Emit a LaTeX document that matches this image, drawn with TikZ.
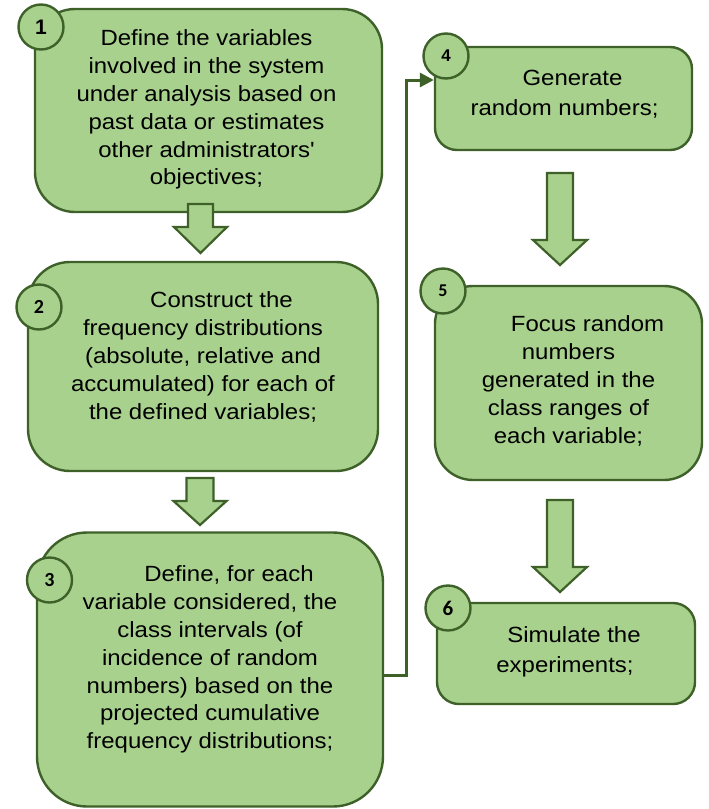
\documentclass[tikz,border=0pt]{standalone}
\usepackage{fontspec}
\setmainfont{Liberation Sans}[FakeStretch=1.09, Ligatures=TeXOff]
\newfontfamily\calnum{Carlito}
\newfontfamily\arnum{Liberation Sans}
\usetikzlibrary{arrows.meta}
\definecolor{gfill}{HTML}{A9D18E}
\definecolor{gline}{HTML}{3E6129}
\tikzset{
  box/.style={draw=gline, fill=gfill, line width=2.4pt, inner sep=0pt},
  numc/.style={circle, draw=gline, fill=gfill, line width=2.4pt, inner sep=0pt, minimum size=45pt},
  txt/.style={align=center, inner sep=0pt, anchor=north, font=\fontsize{22}{27.8}\selectfont},
  txtw/.style={align=center, inner sep=0pt, anchor=north, font=\fontsize{22}{30}\selectfont},
  blk/.style={draw=gline, fill=gfill, line width=2.2pt, line join=miter},
  conn/.style={draw=gline, line width=3pt, -{Triangle[length=14pt,width=14pt]}}
}
\newcommand{\blkdown}[6]{%
  \draw[blk] (#1-#2,#4) -- (#1-#2,#5) -- (#1-#3,#5) -- (#1,#6) -- (#1+#3,#5) -- (#1+#2,#5) -- (#1+#2,#4) -- cycle;}
\begin{document}
\begin{tikzpicture}[x=1pt,y=-1pt]
\useasboundingbox (0,0) rectangle (709,809);
% boxes
\node[box, minimum width=347pt, minimum height=203pt, rounded corners=40pt] (b1) at (208.5,110.5) {};
\node[box, minimum width=350pt, minimum height=209pt, rounded corners=42pt] (b2) at (203,366.5) {};
\node[box, minimum width=346pt, minimum height=274pt, rounded corners=50pt] (b3) at (210,669.5) {};
\node[box, minimum width=257pt, minimum height=103pt, rounded corners=22pt] (b4) at (563.5,98.5) {};
\node[box, minimum width=267pt, minimum height=194pt, rounded corners=38pt] (b5) at (568.5,383) {};
\node[box, minimum width=258pt, minimum height=101pt, rounded corners=22pt] (b6) at (566,653.5) {};
% texts
\node[txt] (t1) at (206.5,29.8) {Define the variables\\involved in the system\\under analysis based on\\past data or estimates\\other administrators'\\objectives;};
\node[txt] (t2) at (203,291.8) {\hspace*{37pt}Construct the\\frequency distributions\\(absolute, relative and\\accumulated) for each of\\the defined variables;};
\node[txt] (t3) at (210,565.8) {\hspace*{38pt}Define, for each\\variable considered, the\\class intervals (of\\incidence of random\\numbers) based on the\\projected cumulative\\frequency distributions;};
\node[txtw] (t4) at (564.5,69.8) {\hspace*{16pt}Generate\\random numbers;};
\node[txt] (t5) at (568.5,315.8) {\hspace*{38pt}Focus random\\numbers\\generated in the\\class ranges of\\each variable;};
\node[txtw] (t6) at (565,626.8) {\hspace*{18pt}Simulate the\\experiments;};
% block arrows
\blkdown{200.5}{12.5}{26.5}{204}{227}{253}
\blkdown{200}{13.5}{26.5}{478}{501}{525}
\blkdown{560}{13}{27}{173}{240}{265}
\blkdown{560}{13}{27}{500}{567}{592}
% connector
\draw[conn] ([yshift=-5.5pt]b3.east) -- ++(22,0) |- ([yshift=18.5pt]b4.west);
% number circles
\node[numc] (c1) at (41,27) {\arnum\bfseries\fontsize{21}{21}\selectfont 1};
\node[numc] (c2) at (39,307) {\calnum\bfseries\fontsize{20}{20}\selectfont 2};
\node[numc] (c3) at (49.5,580) {\calnum\bfseries\fontsize{20}{20}\selectfont 3};
\node[numc] (c4) at (446,56) {\arnum\bfseries\fontsize{17}{17}\selectfont 4};
\node[numc] (c5) at (443,291) {\calnum\bfseries\fontsize{18}{18}\selectfont 5};
\node[numc] (c6) at (448,608) {\calnum\bfseries\fontsize{21}{21}\selectfont 6};
\end{tikzpicture}
\end{document}
